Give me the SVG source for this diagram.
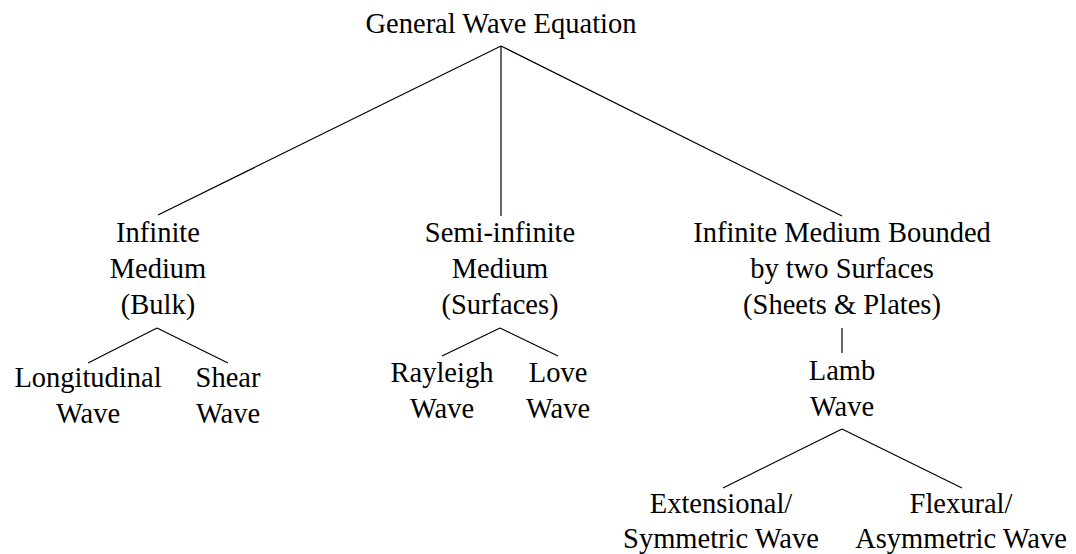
<svg xmlns="http://www.w3.org/2000/svg" width="1076" height="554" viewBox="0 0 1076 554">
<style>
text{font-family:"Liberation Serif","Times New Roman",serif;font-size:28.5px;fill:#000;text-anchor:middle}
.e{stroke:#000;stroke-width:1.2;fill:none}
</style>
<rect width="1076" height="554" fill="#fff"/>
<g id="connectors">
<line class="e" x1="501" y1="46" x2="158" y2="215"/>
<line class="e" x1="501" y1="46" x2="501" y2="216"/>
<line class="e" x1="501" y1="46" x2="842" y2="216"/>
<line class="e" x1="157" y1="328" x2="88" y2="363"/>
<line class="e" x1="157" y1="328" x2="228" y2="363"/>
<line class="e" x1="500" y1="328" x2="442" y2="356"/>
<line class="e" x1="500" y1="328" x2="558" y2="356"/>
<line class="e" x1="842" y1="328" x2="842" y2="353"/>
<line class="e" x1="842" y1="429" x2="723" y2="488"/>
<line class="e" x1="842" y1="429" x2="962" y2="488"/>
</g>
<g id="root"><text x="501" y="33">General Wave Equation</text></g>
<g id="infinite"><text x="158" y="242">Infinite</text><text x="158" y="278">Medium</text><text x="158" y="314">(Bulk)</text></g>
<g id="semi"><text x="500" y="242">Semi-infinite</text><text x="500" y="278">Medium</text><text x="500" y="314">(Surfaces)</text></g>
<g id="bounded"><text x="842" y="242">Infinite Medium Bounded</text><text x="842" y="278">by two Surfaces</text><text x="842" y="314">(Sheets &amp; Plates)</text></g>
<g id="longitudinal"><text x="88" y="387">Longitudinal</text><text x="88" y="423">Wave</text></g>
<g id="shear"><text x="228" y="387">Shear</text><text x="228" y="423">Wave</text></g>
<g id="rayleigh"><text x="442" y="382">Rayleigh</text><text x="442" y="418">Wave</text></g>
<g id="love"><text x="558" y="382">Love</text><text x="558" y="418">Wave</text></g>
<g id="lamb"><text x="842" y="380">Lamb</text><text x="842" y="416">Wave</text></g>
<g id="extensional"><text x="721" y="513">Extensional/</text><text x="721" y="548">Symmetric Wave</text></g>
<g id="flexural"><text x="961" y="513">Flexural/</text><text x="961" y="548">Asymmetric Wave</text></g>
</svg>
